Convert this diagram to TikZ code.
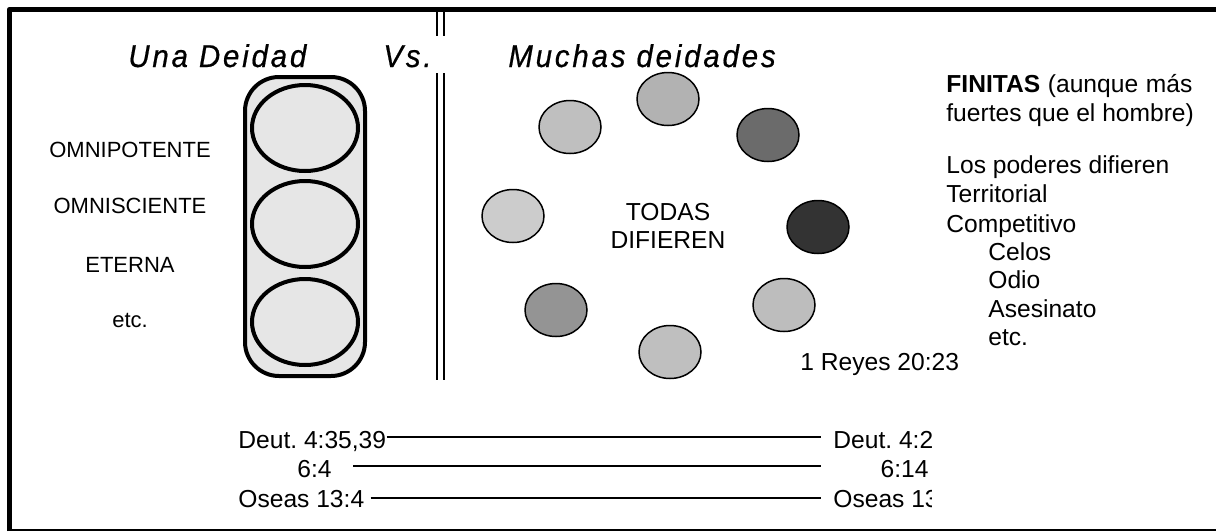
\documentclass[tikz,border=0pt]{standalone}
\usepackage{fontspec}
\setmainfont{Liberation Sans}
\newfontfamily\headfont{Liberation Sans}[FakeStretch=0.93,LetterSpace=9,FakeBold=0.6]
\usetikzlibrary{shapes.geometric}
\definecolor{boxgray}{HTML}{E6E6E6}
\frenchspacing
\begin{document}
\begin{tikzpicture}[x=0.5pt, y=-0.5pt, line join=round,
  lbl/.style={inner sep=0, font=\fontsize{11}{13}\selectfont},
  txt/.style={inner sep=0, font=\fontsize{12.3}{14.4}\selectfont},
  ttl/.style={inner sep=0, font=\headfont\itshape\fontsize{15.8}{18}\selectfont},
  oval/.style={ellipse, draw, line width=2pt, fill=boxgray, minimum width=53pt, minimum height=43pt, inner sep=0},
  god/.style={ellipse, draw, line width=0.75pt, fill=#1, minimum width=31pt, minimum height=26.5pt, inner sep=0},
  ref/.style={line width=0.75pt}]
\useasboundingbox (0,0) rectangle (1216,531);
% frame
\draw[line width=2.5pt] (9.5,531) -- (9.5,9.2) -- (1216,9.2);
\draw[line width=0.75pt] (7,530) -- (1216,530);

% titles
\node[ttl, anchor=base west] (una) at (128,67) {Una Deidad};
\node[ttl, anchor=base west] (vs) at (383,67) {Vs.};
\node[ttl, anchor=base west] (muchas) at (508,67) {Muchas deidades};

% divider
\foreach \x in {437,444}
  \draw[line width=0.75pt] (\x,8) -- (\x,36) (\x,73) -- (\x,380);

% one deity
\draw[line width=2pt, fill=boxgray, rounded corners=17pt] (245,77) rectangle (365,376);
\foreach \y [count=\i] in {128,224,322}
  \node[oval] (o\i) at (305,\y) {};
\foreach \t/\y [count=\i] in {OMNIPOTENTE/157, OMNISCIENTE/213, ETERNA/272, etc./327}
  \node[lbl, anchor=base] (a\i) at (130,\y) {\t};

% many deities
\foreach \x/\y/\k [count=\i] in {570/127/25, 668/99/30, 768/135/58, 513/216/20, 818/227/80, 556/310/42, 670/352/25, 784/305/26}
  \node[god=black!\k] (d\i) at (\x,\y) {};
\node[txt, anchor=base] (todas) at (668,220) {TODAS};
\node[txt, anchor=base] (difieren) at (668,248) {DIFIEREN};

\node[txt, anchor=base west] (fin1) at (946,92) {\makebox[123pt][s]{\textbf{FINITAS} (aunque más}};
\node[txt, anchor=base west] (fin2) at (946,121) {fuertes que el hombre)};
\foreach \t/\x/\y [count=\i] in {Los poderes difieren/946/173, Territorial/946/202, Competitivo/946/232, Celos/988/260, Odio/988/288, Asesinato/988/317, etc./988/345}
  \node[txt, anchor=base west] (r\i) at (\x,\y) {\t};
\node[txt, anchor=base west] (reyes) at (800,370) {1 Reyes 20:23};

% references
\node[txt, anchor=base west] (dl1) at (238,448) {Deut. 4:35,39};
\node[txt, anchor=base west] (dl2) at (297,477) {6:4};
\node[txt, anchor=base west] (dl3) at (238,507) {Oseas 13:4};
\begin{scope}
  \clip (800,400) rectangle (931,520);
  \node[txt, anchor=base west] (dr1) at (833,448) {Deut. 4:28};
  \node[txt, anchor=base east] (dr2) at (929,477) {6:14};
  \node[txt, anchor=base west] (dr3) at (833,507) {Oseas 13:4};
\end{scope}
\coordinate (l1) at ([yshift=5.5pt]dl1.base east);
\coordinate (l2) at ([xshift=10.5pt,yshift=5.5pt]dl2.base east);
\coordinate (l3) at ([xshift=3pt,yshift=4.5pt]dl3.base east);
\draw[ref, shorten >=6pt] (l1) -- (l1 -| dr1.west);
\draw[ref, shorten >=6pt] (l2) -- (l2 -| dr1.west);
\draw[ref, shorten >=6pt] (l3) -- (l3 -| dr3.west);
\end{tikzpicture}
\end{document}
